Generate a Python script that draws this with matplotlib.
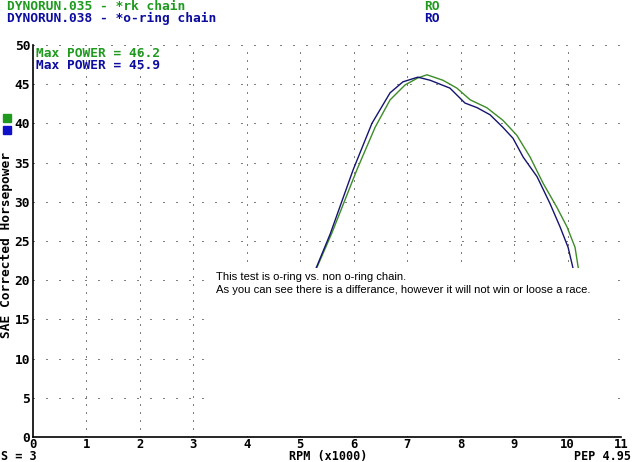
import matplotlib.pyplot as plt
import matplotlib.patches as patches

# rpm (x1000) and SAE corrected hp
rpm_rk = [5.31, 5.59, 6.06, 6.40, 6.68, 6.96, 7.20, 7.37, 7.67, 7.93, 8.18, 8.49, 8.79, 9.05, 9.30, 9.54, 9.80, 9.99, 10.14, 10.20]
hp_rk = [21.6, 26.0, 34.1, 39.5, 43.0, 44.9, 45.8, 46.2, 45.5, 44.5, 43.0, 42.0, 40.4, 38.5, 35.7, 32.4, 29.3, 26.8, 24.2, 21.6]

rpm_oring = [5.30, 5.56, 5.99, 6.34, 6.68, 6.92, 7.20, 7.43, 7.80, 8.08, 8.31, 8.55, 8.79, 8.98, 9.17, 9.43, 9.67, 9.86, 10.01, 10.10]
hp_oring = [21.6, 25.9, 34.1, 40.0, 43.9, 45.3, 45.9, 45.5, 44.5, 42.6, 42.0, 41.1, 39.5, 38.1, 35.7, 33.2, 29.8, 26.8, 24.2, 21.6]

runs = ["DYNORUN.035 - *rk chain", "DYNORUN.038 - *o-ring chain"]
max_power = [46.2, 45.9]

green = '#1f9a1f'
blue = '#0c0ca0'
mono = 'DejaVu Sans Mono'
fs = 9.3

fig = plt.figure(figsize=(6.32, 4.62), dpi=100)
ax = fig.add_axes([33/632, 1-437/462, 588/632, 392/462])
ax.set_xlim(0, 11)
ax.set_ylim(0, 50)

# dotted grid
for x in range(1, 12):
    ax.plot([x, x], [0, 50], color='black', lw=0.72, ls=(0, (1, 7)), zorder=1)
for y in range(5, 51, 5):
    ax.plot([0, 11], [y, y], color='black', lw=0.72, ls=(0, (1, 12)), zorder=1)

ax.plot(rpm_rk, hp_rk, color='#3c8c28', lw=1, zorder=3)
ax.plot(rpm_oring, hp_oring, color='#141470', lw=1, zorder=3)

# note box hides the grid underneath
ax.add_patch(patches.Rectangle((3.4, 0.2), 7.5, 21.3, facecolor='white', edgecolor='none', zorder=4))
ax.text(3.43, 19.6, "This test is o-ring vs. non o-ring chain.\nAs you can see there is a differance, however it will not win or loose a race.",
        fontsize=8.1, family='Liberation Sans', va='center', ha='left', linespacing=1.45, zorder=5)

ax.text(0.06, 48.9, "Max POWER = %.1f" % max_power[0], color=green, family=mono, weight='bold', fontsize=fs, va='center')
ax.text(0.06, 47.4, "Max POWER = %.1f" % max_power[1], color=blue, family=mono, weight='bold', fontsize=fs, va='center')

for s in ['top', 'right']:
    ax.spines[s].set_visible(False)
ax.spines['left'].set_linewidth(1.2)
ax.spines['bottom'].set_linewidth(1.2)
ax.set_xticks(range(0, 12))
ax.set_yticks(range(0, 51, 5))
ax.tick_params(axis='x', length=0, pad=1, labelsize=8.8)
ax.tick_params(axis='y', length=0, pad=2, labelsize=fs)
for lab in ax.get_xticklabels() + ax.get_yticklabels():
    lab.set_family(mono)
    lab.set_weight('bold')

fig.text(7/632, 1-6/462, runs[0], color=green, family=mono, weight='bold', fontsize=fs, va='center')
fig.text(7/632, 1-18/462, runs[1], color=blue, family=mono, weight='bold', fontsize=fs, va='center')
fig.text(424/632, 1-6/462, "RO", color=green, family=mono, weight='bold', fontsize=fs, va='center')
fig.text(424/632, 1-18/462, "RO", color=blue, family=mono, weight='bold', fontsize=fs, va='center')

fig.patches.append(patches.Rectangle((3/632, 1-122/462), 8/632, 8/462, color='#1f9a1f', transform=fig.transFigure))
fig.patches.append(patches.Rectangle((3/632, 1-134/462), 8/632, 8/462, color='#1010c8', transform=fig.transFigure))

fig.text(7/632, 1-245/462, "SAE Corrected Horsepower", rotation=90, family=mono, weight='bold', fontsize=fs, va='center', ha='center')
fig.text(328/632, 1-456.5/462, "RPM (x1000)", family=mono, weight='bold', fontsize=8.5, va='center', ha='center')
fig.text(1/632, 1-456.5/462, "S = 3", family=mono, weight='bold', fontsize=8.5, va='center')
fig.text(574/632, 1-456.5/462, "PEP 4.95", family=mono, weight='bold', fontsize=8.5, va='center')

fig.savefig('out.png', dpi=100)
